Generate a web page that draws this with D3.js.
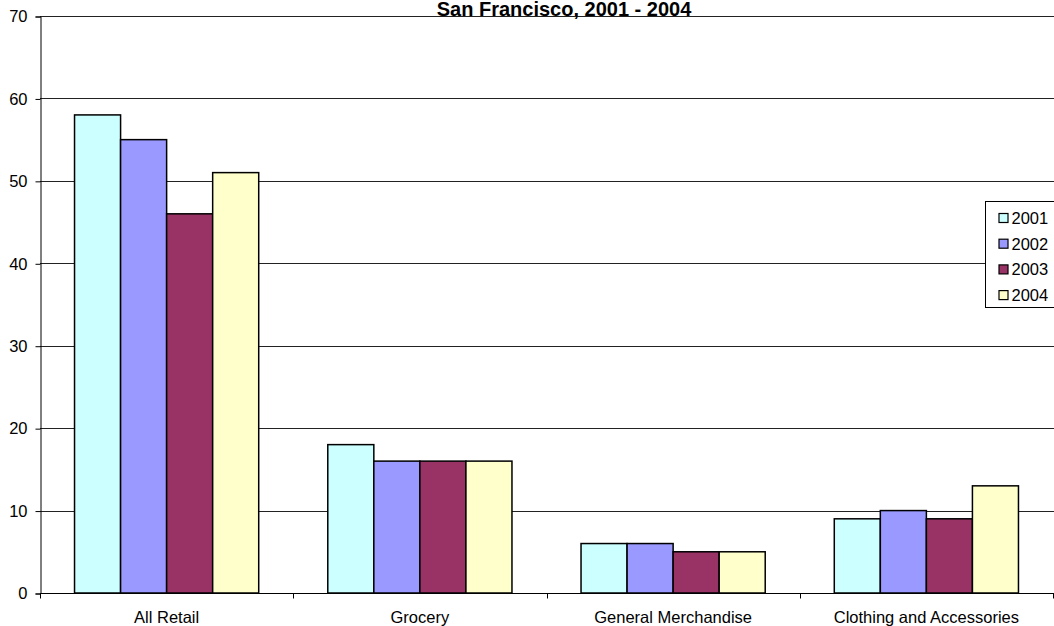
<!DOCTYPE html>
<html>
<head>
<meta charset="utf-8">
<script src="https://cdn.jsdelivr.net/npm/d3@7"></script>
<style>
  body { margin: 0; background: #fff; }
  svg { display: block; font-family: "Liberation Sans", Arial, sans-serif; }
</style>
</head>
<body>
<svg id="chart" width="1054" height="626"></svg>
<script>
    var categories = ['All Retail', 'Grocery', 'General Merchandise', 'Clothing and Accessories'];
    var years = ['2001', '2002', '2003', '2004'];
    var values2001 = [58, 18, 6, 9];
    var values2002 = [55, 16, 6, 10];
    var values2003 = [46, 16, 5, 9];
    var values2004 = [51, 16, 5, 13];
    var colors = ['#ccffff', '#9999ff', '#993366', '#ffffcc'];
    var yTicks = [0, 10, 20, 30, 40, 50, 60, 70];

    (function () {
        'use strict';

        var series = [values2001, values2002, values2003, values2004];

        var svg = d3.select('#chart'),
            plotL = 40, plotR = 1053, plotT = 16, plotB = 593;

        var x = d3.scaleBand()
            .domain(categories)
            .range([plotL, plotR])
            .padding(0);

        var inner = d3.scaleBand()
            .domain(years)
            .range([0, x.bandwidth()])
            .paddingInner(0)
            .paddingOuter(0.75);

        var y = d3.scaleLinear()
            .domain([0, 70])
            .range([plotB, plotT]);

        // gridlines
        svg.append('g')
            .selectAll('line')
            .data(yTicks.filter(function (d) { return d > 0; }))
            .enter().append('line')
            .attr('x1', plotL)
            .attr('x2', plotR + 1)
            .attr('y1', function (d) { return Math.round(y(d)) + 0.5; })
            .attr('y2', function (d) { return Math.round(y(d)) + 0.5; })
            .attr('stroke', '#222')
            .attr('stroke-width', 1);

        // bars
        years.forEach(function (yr, i) {
            svg.append('g')
                .selectAll('rect')
                .data(series[i])
                .enter().append('rect')
                .attr('x', function (d, j) { return x(categories[j]) + inner(yr); })
                .attr('y', function (d) { return y(d); })
                .attr('width', inner.bandwidth())
                .attr('height', function (d) { return plotB - y(d); })
                .attr('fill', colors[i])
                .attr('stroke', '#000')
                .attr('stroke-width', 1.5);
        });

        // y axis
        var yAxis = svg.append('g')
            .attr('transform', 'translate(' + (plotL + 0.5) + ',0.5)')
            .call(d3.axisLeft(y).tickValues(yTicks).tickSize(5).tickPadding(8));
        yAxis.select('.domain').attr('stroke', '#000');
        yAxis.selectAll('.tick line').attr('stroke', '#000');
        yAxis.selectAll('.tick text')
            .attr('font-size', 16.5)
            .attr('font-family', '"Liberation Sans", Arial, sans-serif')
            .attr('fill', '#000');

        // x axis
        var xAxis = svg.append('g')
            .attr('transform', 'translate(0,' + (plotB + 0.5) + ')');
        xAxis.append('line')
            .attr('x1', plotL).attr('x2', plotR + 1)
            .attr('stroke', '#000');
        xAxis.selectAll('line.tk')
            .data(categories.concat(['end']))
            .enter().append('line')
            .attr('class', 'tk')
            .attr('x1', function (d, i) { return Math.round(plotL + i * x.bandwidth()) + 0.5; })
            .attr('x2', function (d, i) { return Math.round(plotL + i * x.bandwidth()) + 0.5; })
            .attr('y1', 0).attr('y2', 5)
            .attr('stroke', '#000');
        xAxis.selectAll('text')
            .data(categories)
            .enter().append('text')
            .attr('x', function (d) { return x(d) + x.bandwidth() / 2; })
            .attr('y', 29.5)
            .attr('text-anchor', 'middle')
            .attr('font-size', 16.5)
            .text(function (d) { return d; });

        // title
        svg.append('text')
            .attr('x', 564)
            .attr('y', 16)
            .attr('text-anchor', 'middle')
            .attr('font-size', 20)
            .attr('font-weight', 'bold')
            .text('San Francisco, 2001 - 2004');

        // legend
        var legend = svg.append('g').attr('transform', 'translate(985.5,201.5)');
        legend.append('rect')
            .attr('width', 80).attr('height', 106)
            .attr('fill', '#fff').attr('stroke', '#000');
        var item = legend.selectAll('g.item')
            .data(years)
            .enter().append('g')
            .attr('class', 'item')
            .attr('transform', function (d, i) { return 'translate(0,' + (16.5 + i * 25.7) + ')'; });
        item.append('rect')
            .attr('x', 13.5).attr('y', -4.5)
            .attr('width', 9).attr('height', 9)
            .attr('fill', function (d, i) { return colors[i]; })
            .attr('stroke', '#000')
            .attr('stroke-width', 1.2);
        item.append('text')
            .attr('x', 26).attr('y', 6)
            .attr('font-size', 16.5)
            .text(function (d) { return d; });
    }());
</script>
</body>
</html>
